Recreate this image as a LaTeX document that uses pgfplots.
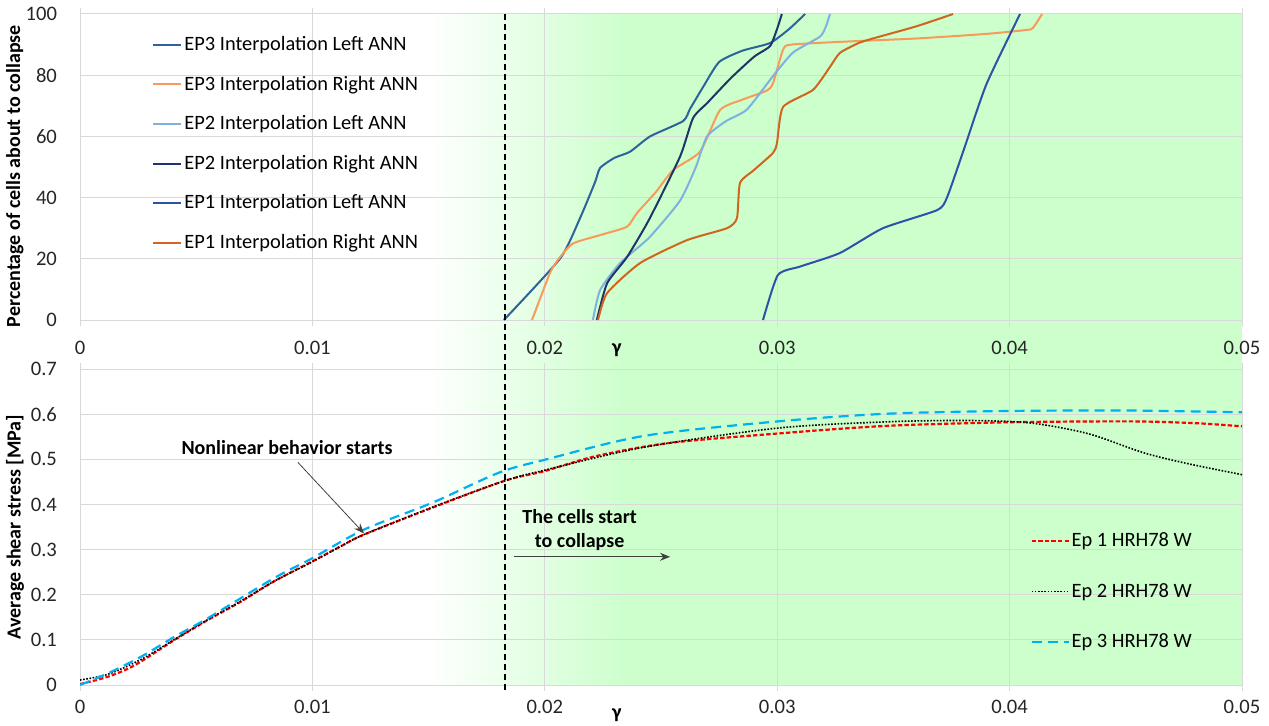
\documentclass[border=0pt]{standalone}
\usepackage{fontspec}
\setmainfont{Carlito}
\usepackage{pgfplots}
\pgfplotsset{compat=1.18}
\usetikzlibrary{arrows.meta}
\definecolor{cgreen}{HTML}{CCFFCC}
\definecolor{gridgray}{HTML}{D9D9D9}
\definecolor{epAl}{HTML}{2E6399}
\definecolor{epAr}{HTML}{F79A5A}
\definecolor{epBl}{HTML}{7FB0E0}
\definecolor{epBr}{HTML}{1F3568}
\definecolor{epCl}{HTML}{2C52A8}
\definecolor{epCr}{HTML}{D0651F}
\definecolor{ep3blue}{HTML}{00B0F0}
\pgfplotsset{
  every axis/.append style={
    /pgf/number format/assume math mode=true,
    scaled x ticks=false, scaled y ticks=false,
    scale only axis, width=581pt,
    xmin=0, xmax=0.05,
    xtick={0,0.01,0.02,0.03,0.04,0.05},
    xticklabels={0,0.01,0.02,0.03,0.04,0.05},
    grid=major, major grid style={color=gridgray, line width=0.5pt},
    axis line style={draw=none},
    tick label style={font=\fontsize{10.3}{12}\selectfont, text=black!85},
    label style={font=\bfseries\fontsize{10}{12}\selectfont},
    xtick style={color=gridgray, line width=0.5pt},
    ytick style={draw=none},
    tick align=outside, major tick length=3pt,
    yticklabel style={xshift=-5pt},
    clip=true,
  },
}
\begin{document}
\begin{tikzpicture}
\useasboundingbox (0,0) rectangle (634.5pt,362.5pt);
% green background region
\fill[left color=white, right color=cgreen, draw=none] (214.3pt,20pt) rectangle (313.1pt,355.5pt);
\fill[cgreen, draw=none] (313pt,20pt) rectangle (621pt,355.5pt);

% ---------------- top axis ----------------
\begin{axis}[
  at={(40pt,202.5pt)}, anchor=south west,
  height=153pt,
  ymin=0, ymax=100,
  ytick={0,20,40,60,80,100},
  xticklabel style={yshift=-4pt},
  ylabel={Percentage of cells about to collapse},
  ylabel style={at={(axis description cs:-0.056,0.47)}, anchor=center, rotate=0},
  xlabel={γ},
  xlabel style={at={(axis description cs:0.462,-0.098)}, anchor=center},
  legend style={at={(axis description cs:0.062,0.935)}, anchor=north west,
    draw=none, fill=none, font=\fontsize{10.2}{12}\selectfont,
    row sep=9.2pt, inner sep=0pt, nodes={inner sep=1pt}},
  legend cell align=left,
  legend image code/.code={\draw[#1] (0pt,0pt) -- (14pt,0pt);},
  every axis plot/.append style={line width=1pt, smooth, tension=0.35},
]
\addplot[epAl] coordinates {
(0.01824,0) (0.02065,20) (0.02150,33) (0.02216,45) (0.02238,49.7) (0.0230,53)
(0.02367,55) (0.02453,60) (0.02595,65) (0.02625,69) (0.0268,76) (0.0275,84.3)
(0.0285,88) (0.02969,90.5) (0.0305,95) (0.0312,100)};
\addlegendentry{EP3 Interpolation Left ANN}
\addplot[epAr] coordinates {
(0.01945,0) (0.02022,15.3) (0.02060,20) (0.02121,25) (0.0225,28) (0.02354,30.5)
(0.02397,35) (0.02480,42) (0.02552,49) (0.02668,55) (0.02754,68.6) (0.0285,72)
(0.02956,75) (0.02982,77.4) (0.03025,88.3) (0.03060,90) (0.0330,91) (0.0360,92)
(0.0390,93.5) (0.04075,94.8) (0.0410,95.4) (0.0414,100)};
\addlegendentry{EP3 Interpolation Right ANN}
\addplot[epBl] coordinates {
(0.02207,0) (0.02238,9.8) (0.02324,18.6) (0.0245,27) (0.02582,39) (0.0265,50)
(0.02698,60) (0.0278,65) (0.0287,68.8) (0.02982,79.7) (0.03068,87.4)
(0.03184,92.6) (0.0321,96) (0.03227,100)};
\addlegendentry{EP2 Interpolation Left ANN}
\addplot[epBr] coordinates {
(0.02224,0) (0.02268,12) (0.02354,20.6) (0.0245,33) (0.02582,53.4) (0.02638,66)
(0.0270,71) (0.0280,79) (0.0290,86) (0.02969,89.5) (0.02999,95) (0.0302,100)};
\addlegendentry{EP2 Interpolation Right ANN}
\addplot[epCl] coordinates {
(0.02939,0) (0.03003,14.7) (0.0310,17.5) (0.0327,21.9) (0.03455,30) (0.03688,35.9)
(0.0373,39.9) (0.0380,55) (0.0390,77) (0.04045,100)};
\addlegendentry{EP1 Interpolation Left ANN}
\addplot[epCr] coordinates {
(0.02229,0) (0.02268,8.8) (0.0241,18.6) (0.02612,26.1) (0.02784,30) (0.02827,33.3)
(0.0284,44.8) (0.0290,49) (0.02982,54.6) (0.02999,57.8) (0.03025,69.6)
(0.03154,75.2) (0.03227,82.7) (0.0327,87.3) (0.0335,90.5) (0.03412,92)
(0.0360,96) (0.03757,100)};
\addlegendentry{EP1 Interpolation Right ANN}
\end{axis}

% ---------------- bottom axis ----------------
\begin{axis}[
  at={(40pt,20pt)}, anchor=south west,
  height=158pt,
  ymin=0, ymax=0.7,
  ytick={0,0.1,0.2,0.3,0.4,0.5,0.6,0.7},
  yticklabels={0,0.1,0.2,0.3,0.4,0.5,0.6,0.7},
  xticklabel style={yshift=-1pt},
  ylabel={Average shear stress [MPa]},
  ylabel style={at={(axis description cs:-0.056,0.5)}, anchor=center, rotate=0},
  xlabel={γ},
  xlabel style={at={(axis description cs:0.462,-0.095)}, anchor=center},
  legend style={at={(axis description cs:0.8176,0.49)}, anchor=north west,
    draw=none, fill=none, font=\fontsize{10.2}{12}\selectfont,
    row sep=14.8pt, inner sep=0pt, nodes={inner sep=1pt}},
  legend cell align=left,
  legend image code/.code={\draw[#1] (0pt,0pt) -- (18.5pt,0pt);},
]
\addplot[red, line width=1.1pt, dash pattern=on 2.2pt off 1.1pt, smooth] coordinates {
(0,0.002) (0.00121,0.0185) (0.00236,0.044) (0.00407,0.1) (0.0055,0.144) (0.00693,0.185)
(0.00836,0.230) (0.01,0.274) (0.01121,0.307) (0.01221,0.333) (0.01517,0.393)
(0.01825,0.452) (0.02,0.474) (0.0222,0.507)
(0.02533,0.536) (0.03,0.557) (0.0347,0.574) (0.04,0.582) (0.0452,0.584)
(0.048,0.580) (0.05,0.573)};
\addlegendentry{Ep 1 HRH78 W}
\addplot[black, line width=0.8pt, dash pattern=on 0.8pt off 0.8pt, smooth] coordinates {
(0,0.011) (0.00121,0.024) (0.00264,0.057) (0.00407,0.101) (0.0055,0.145) (0.00693,0.186)
(0.00836,0.230) (0.01,0.273) (0.01121,0.307) (0.01221,0.333) (0.01517,0.394)
(0.01825,0.452) (0.02,0.476) (0.0243,0.527) (0.03,0.569)
(0.0347,0.583) (0.0381,0.586) (0.0406,0.582) (0.0423,0.569) (0.0437,0.552)
(0.0458,0.514) (0.0477,0.490) (0.05,0.466)};
\addlegendentry{Ep 2 HRH78 W}
\addplot[ep3blue, line width=1.1pt, dash pattern=on 5pt off 3pt, smooth] coordinates {
(0,0) (0.00121,0.026) (0.00264,0.063) (0.00407,0.107) (0.0055,0.148) (0.00836,0.237)
(0.01,0.281) (0.01221,0.344) (0.01517,0.404) (0.01801,0.470) (0.02,0.499)
(0.02429,0.552) (0.03004,0.584)
(0.03475,0.601) (0.04,0.607) (0.04521,0.608) (0.05,0.604)};
\addlegendentry{Ep 3 HRH78 W}
\node[font=\bfseries\fontsize{10}{12}\selectfont] at (axis cs:0.00891,0.527) {Nonlinear behavior starts};
\draw[black!75, line width=0.4pt, -{Stealth[length=5pt,width=4pt]}] (axis cs:0.00938,0.493) -- (axis cs:0.01222,0.336);
\node[font=\bfseries\fontsize{10}{12}\selectfont, align=center] at (axis cs:0.0215,0.343) {The cells start\\to collapse};
\draw[black!75, line width=0.5pt, -{Stealth[length=5pt,width=4pt]}] (axis cs:0.01867,0.284) -- (axis cs:0.02539,0.284);
\end{axis}

% dashed vertical marker
\draw[black, line width=0.8pt, dash pattern=on 3pt off 2pt] (252.6pt,17.5pt) -- (252.6pt,355.5pt);
\end{tikzpicture}
\end{document}
